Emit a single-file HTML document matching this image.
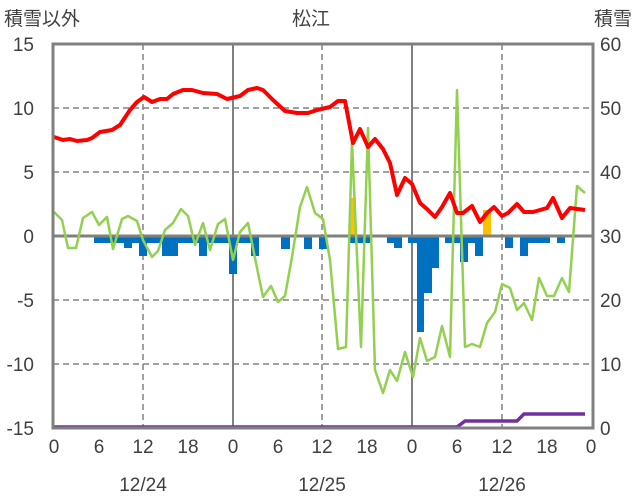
<!DOCTYPE html>
<html><head><meta charset="utf-8"><style>
body{margin:0;background:#fff}
svg{display:block;font-family:"Liberation Sans","Noto Sans CJK JP",sans-serif}
</style></head><body>
<svg width="636" height="501" viewBox="0 0 636 501">
<g stroke="#808080" stroke-width="1.5" stroke-dasharray="6,4">
<line x1="53" y1="108" x2="593" y2="108"/><line x1="53" y1="172" x2="593" y2="172"/>
<line x1="53" y1="300" x2="593" y2="300"/><line x1="53" y1="364" x2="593" y2="364"/>
<line x1="143" y1="44" x2="143" y2="428"/><line x1="322" y1="44" x2="322" y2="428"/><line x1="502" y1="44" x2="502" y2="428"/>
</g>
<g stroke="#808080" stroke-width="2">
<line x1="233" y1="44" x2="233" y2="428"/><line x1="412" y1="44" x2="412" y2="428"/>
</g>
<g fill="#0070c0">
<rect x="94" y="236" width="22" height="7"/>
<rect x="116" y="236" width="117" height="7"/>
<rect x="124" y="236" width="8" height="12"/>
<rect x="139" y="236" width="8" height="20"/>
<rect x="162" y="236" width="16" height="20"/>
<rect x="199" y="236" width="8" height="20"/>
<rect x="229" y="236" width="8" height="38"/>
<rect x="237" y="236" width="22" height="7"/>
<rect x="251" y="236" width="8" height="20"/>
<rect x="281" y="236" width="9" height="13"/>
<rect x="304" y="236" width="8" height="13"/>
<rect x="319" y="236" width="8" height="13"/>
<rect x="350" y="236" width="20" height="7"/>
<rect x="387" y="236" width="15" height="7"/>
<rect x="394" y="236" width="8" height="12"/>
<rect x="408" y="236" width="9" height="7"/>
<rect x="417" y="236" width="7" height="96"/>
<rect x="424" y="236" width="8" height="57"/>
<rect x="432" y="236" width="7" height="32"/>
<rect x="445" y="236" width="38" height="7"/>
<rect x="460" y="236" width="8" height="26"/>
<rect x="475" y="236" width="8" height="20"/>
<rect x="505" y="236" width="8" height="12"/>
<rect x="520" y="236" width="8" height="20"/>
<rect x="528" y="236" width="22" height="7"/>
<rect x="557" y="236" width="8" height="7"/>
</g>
<g fill="#ffc000">
<rect x="350" y="198" width="6" height="38"/>
<rect x="483" y="210" width="8" height="26"/>
</g>
<line x1="53" y1="236" x2="593" y2="236" stroke="#808080" stroke-width="3"/>
<polyline fill="none" stroke="#92d050" stroke-width="2.5" stroke-linejoin="round" points="54,212 62,220 68,248 76,248 83,218 92,212 99,225 107,217 113,249 122,219 128,216 137,221 143,240 152,257 158,251 165,230 173,223 181,209 188,216 195,245 203,223 210,250 218,224 225,219 233,260 240,232 248,223 256,263 263,297 271,286 278,302 285,296 292,257 300,207 307,187 315,213 323,219 330,260 338,349 346,347 352,142 361,347 368,128 375,370 383,393 390,370 397,381 405,352 413,377 420,338 427,361 435,357 442,326 450,357 457,90 465,347 472,344 480,347 487,323 495,312 502,284 510,288 517,310 524,303 532,320 539,278 547,296 554,296 562,278 569,292 577,186 585,193"/>
<polyline fill="none" stroke="#ff0000" stroke-width="4" stroke-linejoin="round" points="54,137 63,140 70,139 77,141 87,140 92,138 100,132 112,130 120,125 130,110 137,102 144,97 152,102 160,99 167,99 173,94 183,90 192,90 203,93 217,94 227,99 240,96 248,90 257,88 263,90 273,100 285,111 297,113 308,113 317,110 330,107 338,101 345,101 353,143 360,129 368,147 375,139 383,149 390,163 397,195 405,178 412,184 420,203 428,210 435,217 442,207 450,193 457,213 463,213 472,206 480,222 487,213 494,207 502,216 508,213 517,204 524,212 533,212 547,208 553,198 562,218 570,208 585,210"/>
<polyline fill="none" stroke="#7030a0" stroke-width="3.5" points="53,427 457,427 465,421 517,421 524,414 585,414"/>
<rect x="53" y="44" width="540" height="384" fill="none" stroke="#808080" stroke-width="3"/>
<g font-size="19" fill="#404040" text-anchor="end">
<text x="34" y="51">15</text><text x="34" y="115">10</text><text x="34" y="179">5</text>
<text x="34" y="243">0</text><text x="34" y="307">-5</text><text x="34" y="371">-10</text><text x="34" y="435">-15</text>
</g>
<g font-size="19" fill="#404040" text-anchor="start">
<text x="600" y="51">60</text><text x="600" y="115">50</text><text x="600" y="179">40</text>
<text x="600" y="243">30</text><text x="600" y="307">20</text><text x="600" y="371">10</text><text x="600" y="435">0</text>
</g>
<g font-size="19" fill="#404040" text-anchor="middle">
<text x="54" y="453">0</text><text x="99" y="453">6</text><text x="143" y="453">12</text><text x="188" y="453">18</text>
<text x="233" y="453">0</text><text x="278" y="453">6</text><text x="322" y="453">12</text><text x="367" y="453">18</text>
<text x="412" y="453">0</text><text x="457" y="453">6</text><text x="502" y="453">12</text><text x="547" y="453">18</text><text x="591" y="453">0</text>
<text x="143" y="491">12/24</text><text x="322" y="491">12/25</text><text x="502" y="491">12/26</text>
<text x="311" y="25">松江</text>
</g>
<text x="4" y="25" font-size="19" fill="#404040">積雪以外</text>
<text x="632" y="25" font-size="19" fill="#404040" text-anchor="end">積雪</text>
</svg>
</body></html>
